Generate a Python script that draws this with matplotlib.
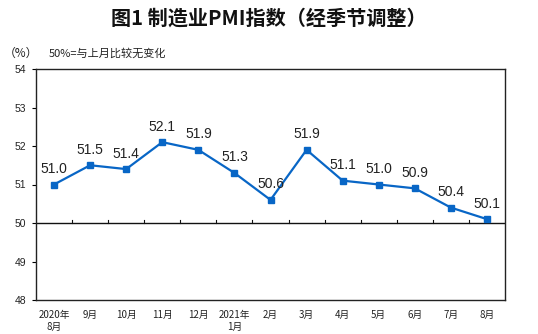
import matplotlib
matplotlib.use("Agg")
import matplotlib.pyplot as plt
from matplotlib.ticker import FixedLocator

plt.rcParams['font.family'] = ['Noto Sans CJK SC', 'DejaVu Sans']

months = ["2020年\n8月", "9月", "10月", "11月", "12月", "2021年\n1月", "2月",
          "3月", "4月", "5月", "6月", "7月", "8月"]
pmi = [51.0, 51.5, 51.4, 52.1, 51.9, 51.3, 50.6, 51.9, 51.1, 51.0, 50.9, 50.4, 50.1]
y_ticks = [48, 49, 50, 51, 52, 53, 54]

fig = plt.figure(figsize=(5.38, 3.34), dpi=100)
ax = fig.add_axes([36 / 538, 1 - 300 / 334, (505 - 36) / 538, (300 - 69) / 334])

x = list(range(len(pmi)))
ax.plot(x, pmi, color="#0866c6", linewidth=1.6, marker="s", markersize=4,
        markerfacecolor="#0866c6", markeredgecolor="#0866c6", zorder=3)

for xi, v in zip(x, pmi):
    ax.text(xi, v + 0.22, f"{v:.1f}", ha="center", va="bottom",
            fontsize=10, family=["Liberation Sans"], color="#222222")

ax.set_xlim(-0.5, len(pmi) - 0.5)
ax.set_ylim(48, 54)
ax.yaxis.set_major_locator(FixedLocator(y_ticks))
ax.set_yticklabels([str(t) for t in y_ticks], fontsize=7.5,
                   family=["Liberation Sans"], color="#222222")
ax.tick_params(axis="y", direction="out", length=3, width=0.8, pad=4)

# 50% baseline with category separators pointing up
ax.axhline(50, color="#111111", linewidth=1.0, zorder=2)
for b in range(1, len(pmi)):
    ax.plot([b - 0.5, b - 0.5], [50, 50.09], color="#111111", linewidth=0.8)

ax.set_xticks(x)
ax.set_xticklabels(months, fontsize=7, linespacing=1.3, color="#222222")
ax.tick_params(axis="x", length=0, pad=7)

for s in ax.spines.values():
    s.set_color("#222222")
    s.set_linewidth(1.0)

fig.text(0.5, 1 - 18 / 334, "图1 制造业PMI指数（经季节调整）", ha="center", va="center",
         fontsize=14.5, fontweight="bold", color="#111111")
fig.text(4 / 538, 1 - 53 / 334, "（%）", ha="left", va="center", fontsize=8.5, color="#222222")
fig.text(49 / 538, 1 - 53 / 334, "50%=与上月比较无变化", ha="left", va="center",
         fontsize=8, color="#222222")

fig.savefig("out.png", dpi=100, facecolor="white")
